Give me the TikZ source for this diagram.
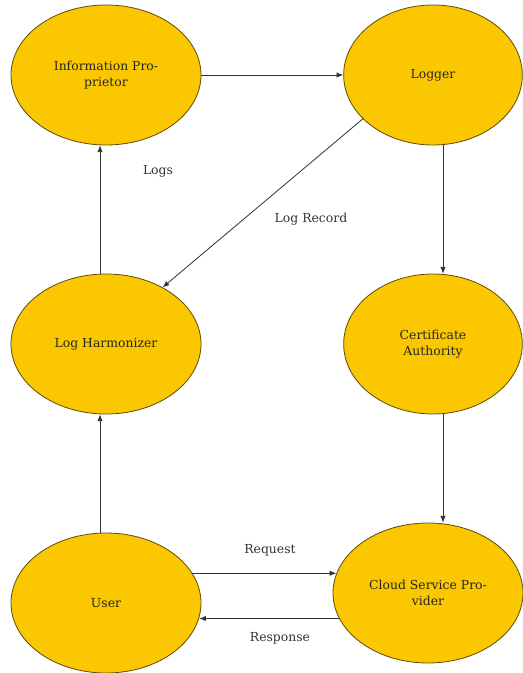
\documentclass[tikz,border=0pt]{standalone}
\usepackage{fontspec}
\setmainfont{DejaVu Serif}
\usepackage{tikz}
\usetikzlibrary{shapes.geometric,arrows.meta}

\definecolor{ovalfill}{RGB}{250,199,0}
\definecolor{ovalline}{RGB}{95,75,10}
\definecolor{arrowline}{RGB}{50,50,50}

\tikzset{
  oval/.style={ellipse, draw=ovalline, fill=ovalfill, line width=0.6pt,
    minimum width=142.5pt, minimum height=105pt, inner sep=0pt,
    align=center, font=\fontsize{9.3}{11.5}\selectfont, text=black!85},
  ovalnarrow/.style={oval, minimum width=134pt},
  flow/.style={-{Latex[length=5pt,width=4pt]}, draw=arrowline, line width=0.6pt},
  tag/.style={font=\fontsize{9.3}{11.5}\selectfont, text=black!80, inner sep=0.75pt}
}

\begin{document}
\begin{tikzpicture}[x=0.75pt,y=0.75pt,yscale=-1,xscale=1]
        \useasboundingbox (0,0) rectangle (523,673);

        \node [oval]       (ip)  at (106,75)  {Information Pro-\\prietor};
        \node [ovalnarrow] (log) at (433,75)  {Logger};
        \node [oval]       (lh)  at (106,344) {Log Harmonizer};
        \node [ovalnarrow] (ca)  at (433,344) {Certificate\\Authority};
        \node [oval]       (usr) at (106,603) {User};
        \node [oval]       (csp) at (428,593) {Cloud Service Pro-\\vider};

        \draw [flow] (ip) -- (log);
        \draw [flow] (log.212) -- (lh.45);
        \draw [flow] ([xshift=-4.5pt]lh.north) -- ([xshift=-4.5pt]ip.south);
        \draw [flow] ([xshift=7.5pt]log.south) -- ([xshift=7.5pt]ca.north);
        \draw [flow] ([xshift=7.5pt]ca.south) -- ([xshift=7.5pt]ca.south |- csp.north);
        \draw [flow] ([xshift=-4.5pt]usr.north) -- ([xshift=-4.5pt]lh.south);
        \draw [flow] (usr.19) -- (usr.19 -| csp.168);
        \draw [flow] (csp.196) -- (csp.196 -| usr.351);

        \draw (158,171) node [tag] (logs) {Logs};
        \draw (311,219) node [tag] (rec)  {Log Record};
        \draw (270,550) node [tag] (req)  {Request};
        \draw (280,638) node [tag] (resp) {Response};
\end{tikzpicture}
\end{document}
